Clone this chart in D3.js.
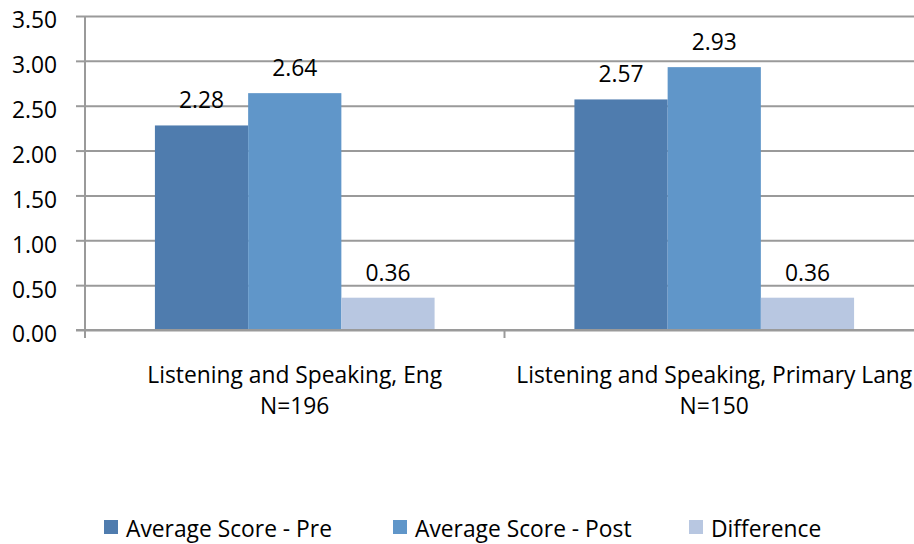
<!DOCTYPE html>
<html>
<head>
<meta charset="utf-8">
<script src="https://cdn.jsdelivr.net/npm/d3@7"></script>
<style>
  body { margin: 0; background: #fff; }
  svg { display: block; font-family: "Open Sans", sans-serif; }
</style>
</head>
<body>
<script>
// categories (two label lines each)
const categories = ['Listening and Speaking, Eng', 'Listening and Speaking, Primary Lang'];
const categoryN = ['N=196', 'N=150'];
const seriesNames = ['Average Score - Pre', 'Average Score - Post', 'Difference'];
const preScores = [2.28, 2.57];
const postScores = [2.64, 2.93];
const diffScores = [0.36, 0.36];
const yTicks = [0, 0.5, 1, 1.5, 2, 2.5, 3, 3.5];

const colors = ['#4f7cae', '#6096c9', '#b8c7e1'];
const gridColor = '#9a9a9a';
const fs = 22.8;

const width = 914, height = 544;
const svg = d3.select('body').append('svg').attr('width', width).attr('height', height);

// plot area runs a bit past the right edge, like the source picture
const plotL = 85, plotR = 924, plotT = 16, plotB = 330;

const x0 = d3.scaleBand().domain(categories).range([plotL, plotR]).padding(0);
const x1 = d3.scaleBand().domain(seriesNames).range([0, x0.bandwidth()]).paddingInner(0).paddingOuter(0.75);
const y = d3.scaleLinear().domain([0, 3.5]).range([plotB, plotT]);

// table built from the series arrays
const rows = categories.map((c, i) => ({
    cat: c,
    vals: [preScores[i], postScores[i], diffScores[i]]
}));

// y axis with gridlines
const yAxis = d3.axisLeft(y).tickValues(yTicks).tickFormat(d3.format('.2f'))
    .tickSize(-(plotR - plotL)).tickPadding(28);
const yG = svg.append('g').attr('transform', `translate(${plotL},0)`).call(yAxis);
yG.select('.domain').remove();
yG.selectAll('.tick line').attr('stroke', gridColor).attr('stroke-width', 2);
yG.selectAll('.tick text').attr('font-size', fs).attr('fill', '#000')
    .attr('font-family', '"Open Sans", sans-serif').attr('dy', '0.52em');
// small outer tick marks on the left
yG.selectAll('.tick').append('line').attr('x1', -9).attr('x2', 0)
    .attr('stroke', gridColor).attr('stroke-width', 2);

// bars
const catG = svg.selectAll('.cat').data(rows).enter().append('g')
    .attr('class', 'cat').attr('transform', d => `translate(${x0(d.cat)},0)`);

catG.selectAll('rect').data(d => d.vals.map((v, j) => ({ s: seriesNames[j], v: v, j: j })))
    .enter().append('rect')
    .attr('x', d => x1(d.s))
    .attr('y', d => y(d.v))
    .attr('width', x1.bandwidth())
    .attr('height', d => y(0) - y(d.v))
    .attr('fill', d => colors[d.j]);

catG.selectAll('.val').data(d => d.vals.map((v, j) => ({ s: seriesNames[j], v: v })))
    .enter().append('text').attr('class', 'val')
    .attr('x', d => x1(d.s) + x1.bandwidth() / 2)
    .attr('y', d => y(d.v) - 17)
    .attr('text-anchor', 'middle').attr('font-size', fs)
    .text(d => d3.format('.2f')(d.v));

// y axis line + x axis line drawn on top of the bars
svg.append('line').attr('x1', plotL).attr('x2', plotL).attr('y1', plotT).attr('y2', plotB + 8)
    .attr('stroke', gridColor).attr('stroke-width', 2);
svg.append('line').attr('x1', plotL - 9).attr('x2', plotR).attr('y1', plotB).attr('y2', plotB)
    .attr('stroke', gridColor).attr('stroke-width', 2);
// category separator ticks
x0.domain().forEach(c => {
    const xe = x0(c) + x0.bandwidth();
    svg.append('line').attr('x1', xe).attr('x2', xe).attr('y1', plotB).attr('y2', plotB + 8)
        .attr('stroke', gridColor).attr('stroke-width', 2);
});

// category labels
categories.forEach((c, i) => {
    const cx = x0(c) + x0.bandwidth() / 2;
    const t = svg.append('text').attr('text-anchor', 'middle').attr('font-size', fs);
    t.append('tspan').attr('x', cx).attr('y', 383).text(c);
    t.append('tspan').attr('x', cx).attr('y', 414).text(categoryN[i]);
});

// legend
const legendX = [104, 393, 689];
const leg = svg.selectAll('.leg').data(seriesNames).enter().append('g')
    .attr('class', 'leg').attr('transform', (d, i) => `translate(${legendX[i]},520)`);
leg.append('rect').attr('width', 14).attr('height', 14).attr('fill', (d, i) => colors[i]);
leg.append('text').attr('x', 22).attr('y', 17).attr('font-size', fs).text(d => d);
</script>
</body>
</html>
